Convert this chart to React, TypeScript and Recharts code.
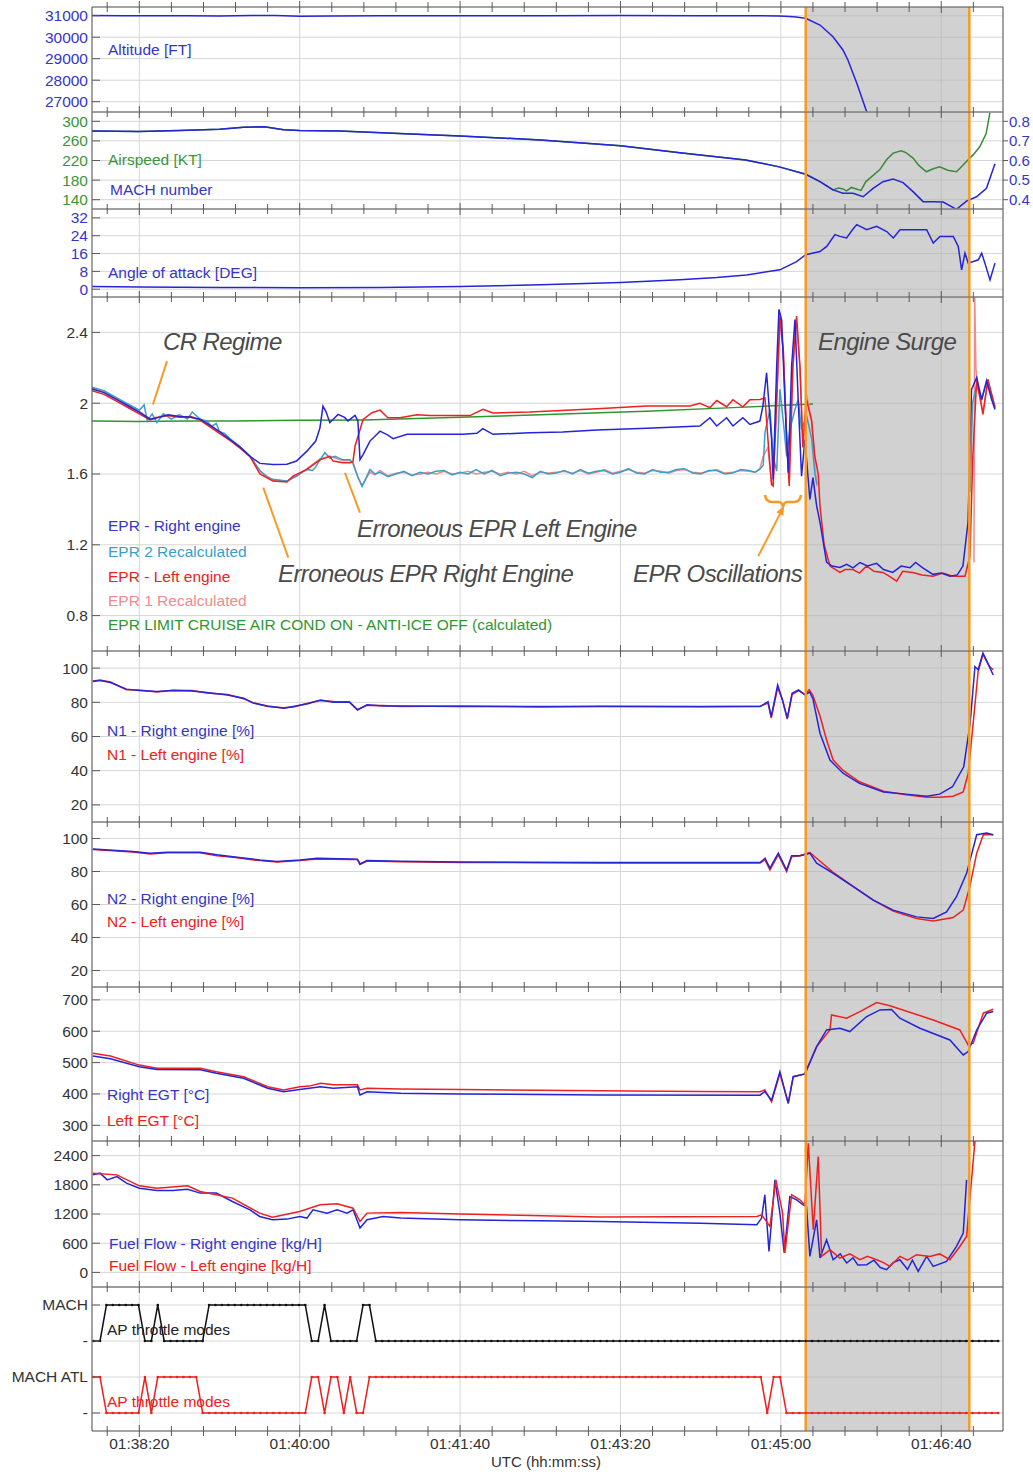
import React from 'react';
import { LineChart, Line, XAxis, YAxis, CartesianGrid, ReferenceLine, ReferenceArea } from 'recharts';

type Pt = [number, number | null];

// x values are seconds after 01:30:00 UTC
const timeDomain: [number, number] = [470.5, 1038.5];
const minorTicks = [480, 500, 520, 540, 560, 580, 600, 620, 640, 660, 680, 700, 720, 740, 760, 780, 800, 820, 840, 860, 880, 900, 920, 940, 960, 980, 1000, 1020];
const majorTicks = [500, 600, 700, 800, 900, 1000];
const surgeWindow = [915.5, 1017.5];

const altitude: Pt[] = [[470.5, 31010], [490, 31000], [510, 30995], [530, 31002], [550, 30990], [570, 31005], [585, 31012], [600, 30975], [620, 30990], [650, 31000], [700, 30995], [750, 31000], [800, 31005], [850, 31000], [880, 30998], [899, 30990], [908, 30950], [915.5, 30879], [924.4, 30567], [932.5, 30023], [938.7, 29405], [941.8, 28940], [947.3, 27870], [953.5, 26535]];

const airspeed: Pt[] = [[470.5, 280], [500, 279], [525, 281], [550, 284], [565, 288], [578, 289], [590, 283], [600, 281], [625, 280], [662, 275], [700, 270], [750, 262], [800, 250], [837, 236], [878, 221], [899, 207], [915.5, 192], [924.4, 177], [932.5, 160], [936, 164], [938.7, 162], [941, 158], [944, 165], [947, 162], [950, 159], [953, 177], [957, 188], [961.6, 201], [966, 222], [970, 235], [975, 240], [978, 236], [982.4, 225], [986, 210], [990.7, 197], [995, 203], [999, 207], [1004, 200], [1009.5, 197], [1012, 205], [1015.7, 218], [1020, 232], [1024, 248], [1028, 275], [1030.3, 317]];

const mach: Pt[] = [[470.5, 0.75], [500, 0.748], [525, 0.7525], [550, 0.76], [565, 0.77], [578, 0.7725], [590, 0.7575], [600, 0.7525], [625, 0.75], [662, 0.7375], [700, 0.725], [750, 0.705], [800, 0.675], [837, 0.64], [878, 0.6025], [899, 0.5675], [915.5, 0.53], [924.4, 0.4925], [932.5, 0.45], [938.7, 0.433], [945, 0.433], [951.3, 0.415], [957.5, 0.458], [963.7, 0.492], [970, 0.505], [976.2, 0.487], [982.4, 0.441], [988.7, 0.39], [995, 0.39], [1001.2, 0.388], [1009.5, 0.351], [1015.7, 0.393], [1022, 0.415], [1028.2, 0.458], [1033.5, 0.583]];

const angleOfAttack: Pt[] = [[470.5, 1.2], [500, 1.0], [550, 0.8], [600, 0.7], [650, 0.8], [700, 1.2], [750, 2.0], [800, 3.0], [837, 4.2], [860, 5.2], [878.7, 6.4], [899.4, 8.7], [909.8, 12.4], [915.5, 15.5], [924.4, 16.9], [928.6, 19.2], [933.7, 24.5], [936.8, 23.7], [941, 23.0], [945, 27], [947.3, 29], [953.5, 26.7], [959.7, 28.2], [966, 25.9], [970.1, 23.0], [974.3, 26.7], [980.5, 26.7], [986.7, 26.7], [990.9, 26.7], [995, 20.7], [999.2, 23.7], [1007.5, 23.7], [1010.6, 19.2], [1012.7, 8.7], [1014.8, 16.2], [1016.8, 11.7], [1020, 12.4], [1023.1, 13.2], [1025.2, 16.2], [1027.2, 11.7], [1030.4, 4.2], [1033.5, 11.7]];

const eprRight: Pt[] = [[470.5, 2.08], [478, 2.06], [486, 2.02], [494, 1.98], [500, 1.95], [506.7, 1.91], [512, 1.92], [518, 1.935], [525, 1.925], [532, 1.92], [537.9, 1.91], [545, 1.87], [550, 1.84], [556.5, 1.795], [563, 1.75], [569, 1.7], [575.2, 1.66], [583.3, 1.654], [592, 1.655], [598, 1.673], [604.5, 1.729], [610, 1.786], [612.6, 1.86], [614.5, 1.984], [616.5, 1.95], [618.8, 1.89], [623.9, 1.937], [628, 1.92], [630.1, 1.9], [634.5, 1.931], [636.3, 1.9], [637.6, 1.682], [639.5, 1.71], [643.8, 1.786], [650.1, 1.842], [655, 1.82], [658.2, 1.8], [666.9, 1.824], [681.2, 1.824], [701.8, 1.825], [710.5, 1.83], [714.2, 1.856], [720.5, 1.824], [743.5, 1.833], [764.1, 1.837], [785.3, 1.848], [816.5, 1.858], [849.5, 1.871], [855.8, 1.918], [860, 1.871], [866.2, 1.918], [870.1, 1.871], [876.3, 1.918], [880.7, 1.88], [886.9, 1.899], [888.8, 1.984], [891.1, 2.172], [894.2, 1.795], [895.2, 1.569], [897.4, 2.21], [898.8, 2.53], [900.5, 2.47], [902.5, 2.021], [904.6, 1.607], [906.7, 2.21], [908.8, 2.473], [910.8, 2.021], [912.9, 1.588], [915, 1.795], [918.1, 1.456], [920, 1.58], [922.3, 1.42], [924.4, 1.327], [928.5, 1.101], [932, 1.08], [936.8, 1.072], [941, 1.09], [945, 1.07], [949.3, 1.1], [954, 1.08], [959.7, 1.095], [964, 1.06], [969.8, 1.044], [975, 1.08], [980.5, 1.07], [984, 1.1], [988.5, 1.07], [994.8, 1.033], [1000, 1.04], [1005.4, 1.023], [1010, 1.03], [1013.5, 1.08], [1016.7, 1.327], [1018.9, 2.078], [1022.1, 2.146], [1025.2, 2.021], [1028.3, 2.125], [1031.4, 2.021], [1033.5, 1.965]];

const eprLeft: Pt[] = [[470.5, 2.07], [478, 2.05], [486, 2.01], [494, 1.97], [500, 1.94], [506.7, 1.905], [512, 1.92], [518, 1.93], [525, 1.92], [532, 1.925], [537.9, 1.905], [545, 1.86], [550, 1.83], [556.5, 1.79], [563, 1.745], [569, 1.7], [575.2, 1.6], [583.3, 1.56], [592, 1.555], [595.8, 1.588], [604.5, 1.626], [612.6, 1.68], [618.8, 1.7], [620.8, 1.673], [627, 1.664], [631.3, 1.664], [633.2, 1.67], [634.5, 1.758], [637.6, 1.85], [639.5, 1.908], [645.1, 1.946], [650.1, 1.961], [655, 1.918], [662.5, 1.918], [673.1, 1.935], [681.2, 1.93], [706.2, 1.93], [714.2, 1.965], [720.5, 1.945], [743.5, 1.95], [785.3, 1.969], [816.5, 1.984], [843.3, 1.984], [849.5, 2.0], [855.8, 1.975], [860, 2.015], [866.2, 1.98], [870.1, 2.02], [876.3, 1.98], [880.7, 2.02], [886.9, 2.021], [890.1, 2.03], [891.9, 1.8], [894.2, 1.541], [895.2, 1.532], [897.4, 2.021], [899.4, 2.492], [901.5, 2.3], [903.6, 1.8], [905.2, 1.532], [907.5, 2.21], [909.8, 2.492], [911.9, 2.21], [913.7, 1.75], [916, 2.021], [919.2, 1.9], [921.2, 1.7], [923.3, 1.6], [924.4, 1.419], [927, 1.2], [930.6, 1.08], [936.8, 1.044], [940, 1.06], [944.9, 1.06], [949, 1.04], [953.5, 1.08], [958, 1.05], [963.6, 1.044], [968, 1.02], [972.2, 0.995], [976, 1.05], [982.3, 1.044], [988, 1.03], [994.8, 1.023], [1001, 1.04], [1007.2, 1.023], [1014.8, 1.023], [1017.9, 1.136], [1019.7, 1.7], [1022.1, 2.135], [1026, 1.937], [1029.1, 2.135], [1033.5, 1.975]];

const epr2Recalc: Pt[] = [[470.5, 2.09], [478, 2.07], [486, 2.03], [494, 1.99], [500, 1.96], [503, 1.99], [505, 1.9], [508, 1.94], [511, 1.89], [515, 1.94], [520, 1.91], [525, 1.935], [530, 1.91], [533, 1.95], [537.9, 1.91], [542, 1.9], [545, 1.87], [548, 1.885], [550, 1.84], [553, 1.83], [556.5, 1.8], [562, 1.76], [569, 1.7], [575.2, 1.62], [580, 1.58], [583.3, 1.57], [588, 1.565], [592, 1.56], [598, 1.59], [604.5, 1.626], [608, 1.62], [610, 1.64], [612.6, 1.68], [615.7, 1.72], [618.8, 1.69], [622, 1.7], [627, 1.68], [631.3, 1.68], [633.2, 1.66], [636.3, 1.58], [638.9, 1.53], [643.8, 1.625], [647, 1.6], [650.1, 1.61], [655, 1.585], [660, 1.6], [665, 1.615], [670, 1.59], [675, 1.61], [680, 1.6], [685, 1.615], [690, 1.62], [695, 1.595], [700, 1.61], [705, 1.6], [710, 1.625], [715, 1.6], [720, 1.62], [725, 1.59], [730, 1.605], [735, 1.61], [740, 1.6], [745, 1.58], [750, 1.615], [755, 1.6], [760, 1.605], [765, 1.62], [770, 1.6], [775, 1.625], [780, 1.605], [785, 1.615], [790, 1.62], [795, 1.6], [800, 1.61], [805, 1.63], [810, 1.605], [815, 1.6], [820, 1.625], [825, 1.61], [830, 1.61], [835, 1.625], [840, 1.63], [845, 1.605], [850, 1.6], [855, 1.62], [860, 1.62], [865, 1.6], [870, 1.605], [875, 1.625], [880, 1.62], [884, 1.61], [886.9, 1.627], [889, 1.65], [890.1, 1.835], [893.2, 1.965], [895.2, 1.7], [897.4, 1.616], [899.4, 2.078], [901.5, 1.9], [903.6, 1.7], [905.6, 1.85], [908.8, 1.965], [910.8, 2.021], [912.9, 1.85], [916, 1.93], [919.2, 1.8], [921.2, 1.6], [922.5, 1.541], [923, null], [1017.9, null], [1018.2, 1.5], [1019.5, 2.0], [1022.1, 2.1], [1025.2, 2.02], [1028.3, 2.13], [1031.4, 2.05], [1033.5, 1.98]];

const epr1Recalc: Pt[] = [[470.5, 2.085], [478, 2.065], [486, 2.025], [494, 1.985], [500, 1.955], [506.7, 1.91], [512, 1.925], [518, 1.93], [525, 1.925], [532, 1.92], [537.9, 1.905], [545, 1.865], [550, 1.835], [556.5, 1.795], [563, 1.75], [569, 1.7], [575.2, 1.615], [583.3, 1.565], [592, 1.56], [598, 1.585], [604.5, 1.63], [612.6, 1.685], [618.8, 1.7], [622, 1.69], [627, 1.675], [631.3, 1.675], [633.2, 1.665], [636.3, 1.585], [638.9, 1.535], [643.8, 1.61], [647, 1.595], [650.1, 1.62], [655, 1.59], [660, 1.605], [665, 1.61], [670, 1.595], [675, 1.6], [680, 1.61], [685, 1.6], [690, 1.615], [695, 1.6], [700, 1.605], [705, 1.615], [710, 1.6], [715, 1.61], [720, 1.615], [725, 1.6], [730, 1.61], [735, 1.6], [740, 1.615], [745, 1.59], [750, 1.61], [755, 1.605], [760, 1.61], [765, 1.615], [770, 1.605], [775, 1.62], [780, 1.6], [785, 1.61], [790, 1.625], [795, 1.605], [800, 1.615], [805, 1.625], [810, 1.61], [815, 1.605], [820, 1.62], [825, 1.615], [830, 1.605], [835, 1.62], [840, 1.625], [845, 1.61], [850, 1.605], [855, 1.615], [860, 1.625], [865, 1.605], [870, 1.61], [875, 1.62], [880, 1.615], [884, 1.61], [886.9, 1.63], [889, 1.7], [891.9, 1.75], [894.2, 1.541], [895.2, 1.55], [897.4, 2.0], [899.4, 2.45], [901.5, 2.3], [903.6, 1.8], [905.2, 1.55], [907.5, 2.2], [909.8, 2.45], [911.9, 2.2], [913.7, 1.78], [916, 2.05], [919.2, 1.9], [921.2, 1.65], [922.5, 1.53], [923, null], [1020, null], [1020.4, 1.1], [1020.8, 2.65], [1021.6, 2.2], [1022.5, 2.1], [1026, 1.95], [1029, 2.12], [1033.5, 1.97]];

const eprLimit: Pt[] = [[470.5, 1.899], [500, 1.897], [530, 1.9], [560, 1.9], [600, 1.903], [640, 1.905], [700, 1.92], [750, 1.935], [787, 1.946], [816, 1.955], [870, 1.975], [920, 1.995]];

const n1Right: Pt[] = [[471, 92.1], [475.5, 92.7], [482, 91.6], [492, 87.7], [500, 86.9], [511, 86.3], [521, 86.9], [533, 86.6], [542, 85.7], [555, 84.3], [565, 82.4], [571, 79.5], [580, 77.9], [590, 76.5], [596, 77.5], [605, 79.1], [613, 81.4], [621, 80.1], [631, 80.1], [636, 75.5], [642, 78.5], [652, 77.9], [663, 77.9], [700, 77.6], [750, 77.5], [787, 77.5], [850, 77.5], [887, 77.5], [892, 80.4], [894, 71.6], [898, 90.2], [901, 81.4], [904, 70.7], [907, 85.3], [911, 87.3], [915, 84.3], [918, 86], [920, 82], [924.4, 61.9], [930.6, 46.2], [939, 38.4], [949, 32.6], [964, 27.6], [978, 26.3], [991, 25.1], [999, 26.3], [1007, 30.6], [1014, 42.3], [1018, 67.7], [1021, 100.9], [1023, 99], [1026, 108.8], [1029, 102.9], [1032.4, 96]];

const n1Left: Pt[] = [[471, 92.4], [475.5, 93], [482, 91.9], [492, 87.4], [500, 87.2], [511, 86.0], [521, 87.1], [533, 86.9], [542, 85.4], [555, 84.6], [565, 82.1], [571, 79.8], [580, 77.6], [590, 76.8], [596, 77.3], [605, 79.4], [613, 81.1], [621, 80.4], [631, 80.3], [636, 75.8], [642, 78.2], [652, 78.2], [663, 77.6], [700, 77.9], [750, 77.3], [787, 77.7], [850, 77.4], [887, 77.7], [892, 79.5], [894, 70.8], [898, 88.5], [901, 81.4], [904, 70.2], [907, 84.5], [911, 86.8], [915, 84.5], [917.7, 87.3], [920, 84], [924.4, 72], [928.5, 58], [932.6, 46.2], [939, 40], [949, 33.5], [964, 28], [978, 26], [991, 24.5], [999, 24.5], [1007.4, 25.1], [1013.7, 27.6], [1016.8, 38.4], [1019.9, 67.7], [1023, 98], [1026, 108], [1030, 101], [1032.4, 99]];

const n2Right: Pt[] = [[471, 93.7], [496, 92.1], [506.7, 91.1], [517.3, 91.7], [537.9, 91.7], [548.4, 90.1], [558.4, 89], [575.2, 87], [585.8, 86], [600.2, 87], [610.8, 88], [631.4, 87.6], [636, 87.5], [637.6, 84.6], [642, 86.6], [662.6, 86.2], [700, 85.8], [787, 85.4], [887, 85.4], [890.1, 88], [893.2, 82], [898.4, 91.1], [903.6, 80.9], [906.7, 89.5], [911.9, 89.5], [918.1, 91.1], [922.3, 85], [932.6, 78.9], [945.1, 70.8], [957.6, 62.6], [970, 56.6], [984.6, 52.5], [995, 51.5], [1003.3, 55.5], [1009.5, 64.7], [1015.8, 78.9], [1022.1, 102.3], [1028.3, 103.3], [1032.4, 102.3]];

const n2Left: Pt[] = [[471, 93.4], [496, 91.8], [506.7, 90.6], [517.3, 91.4], [537.9, 91.4], [548.4, 89.6], [558.4, 88.6], [575.2, 86.6], [585.8, 85.7], [600.2, 86.7], [610.8, 87.6], [631.4, 87.3], [636, 87.2], [637.6, 84.3], [642, 86.3], [662.6, 85.9], [700, 85.5], [787, 85.2], [887, 85.2], [890.1, 87], [893.2, 81], [898.4, 90], [903.6, 80], [906.7, 89], [911.9, 89.5], [918.1, 91.5], [922.3, 88], [932.6, 79.5], [945.1, 71], [957.6, 62.6], [970, 56], [984.6, 51.5], [995, 50], [1007.4, 52.1], [1013.7, 56.6], [1017.8, 70.8], [1022.1, 91.1], [1026.2, 102.3], [1032.4, 102.3]];

const egtRight: Pt[] = [[471, 521], [482, 512], [500, 487], [511, 478], [538, 477], [548, 466], [565, 450], [580, 418], [590, 407], [600, 414], [613, 423], [621, 418], [636, 423], [637.6, 397], [642, 407], [663, 402], [700, 400], [787, 396.8], [887, 396], [890, 408], [894.2, 380], [899.4, 471], [904.6, 370], [907.7, 455], [915, 464], [922.3, 551], [928.5, 604], [936.8, 609.6], [943, 599], [953.5, 646.8], [961.8, 668], [969, 669], [974.2, 641.5], [986.7, 609.6], [1005.4, 572], [1013.7, 524.5], [1016.8, 535], [1022.1, 604], [1028.3, 657.5], [1032.4, 663]];

const egtLeft: Pt[] = [[471, 530], [482, 521], [500, 492], [511, 482], [538, 482], [548, 471], [565, 455], [580, 423], [590, 413], [600, 423], [606, 425], [613, 434], [621, 429], [636, 429], [637.6, 413], [642, 418], [663, 416], [700, 414], [787, 410.6], [850, 408], [887, 407], [890, 413], [894.2, 375], [899.4, 465], [904.6, 370], [907.7, 455], [915, 464], [922.3, 551], [930.6, 604], [931.6, 652], [941, 641.5], [949.3, 662.7], [959.7, 691.5], [968, 681], [995, 636], [1011.6, 604], [1016.8, 556], [1019.9, 562], [1026.2, 657.5], [1032.4, 670]];

const fuelRight: Pt[] = [[471, 2004], [475.5, 2039], [480, 1901], [486, 1969], [492, 1834], [500, 1731], [511, 1682], [521, 1682], [530, 1710], [538, 1629], [548, 1629], [558, 1457], [569, 1286], [575, 1149], [583, 1081], [592, 1095], [600, 1149], [604.5, 1116], [608.3, 1286], [617, 1218], [623.3, 1286], [629.5, 1218], [633.3, 1286], [637.6, 911], [642, 1081], [652, 1149], [663, 1116], [700, 1080], [750, 1060], [787, 1046], [850, 1010], [885, 978], [888, 1116], [890, 1594], [892.6, 431], [896.3, 1902], [899.4, 1218], [902.1, 398], [905.6, 1559], [909.8, 1491], [913.9, 1389], [916, 1350], [918.1, 328], [922.3, 1081], [924.4, 295], [928.5, 671], [932.6, 260], [937, 380], [941, 193], [945, 300], [948, 150], [953.5, 158], [958, 250], [962, 100], [965.9, 55], [970, 200], [974.2, 260], [979, 60], [982, 250], [985.6, 20], [990.9, 328], [995, 123], [1003.3, 226], [1009.5, 533], [1013.7, 808], [1015.8, 1902]];

const fuelLeft: Pt[] = [[471, 2039], [486, 2004], [500, 1779], [511, 1731], [530, 1779], [538, 1662], [558, 1526], [575, 1218], [583, 1136], [600, 1252], [612.7, 1389], [623.3, 1409], [633.3, 1320], [637.6, 1046], [642, 1218], [663, 1231], [700, 1200], [787, 1136], [885, 1149], [888, 1184], [893.2, 944], [896.9, 1902], [901.1, 1218], [902.5, 398], [906.7, 1594], [911.9, 1491], [915, 1386], [917.1, 2654], [920.2, 876], [923.3, 2380], [925.4, 328], [930.6, 466], [936.8, 295], [943, 380], [949.3, 260], [954, 330], [959.7, 260], [964, 200], [968, 123], [974.2, 328], [979, 250], [984.6, 363], [992.9, 328], [999, 380], [1005.4, 260], [1011.6, 533], [1015.8, 738], [1018.9, 1902], [1021, 2700]];

// AP throttle mode, one digit per 4 s sample (1 = mode engaged)
const apStart = 471.5;
const apStep = 4;
const apRight = '0011111100 1000000011 1111111111 1111001000 0011000000 0000000000 0000000000 0000000000 0000000000 0000000000 0000000000 0000000000 0000000000 0000000000 00';
const apLeft = '1100000010 1111111000 0000000000 0000110110 1001111111 1111111111 1111111111 1111111111 1111111111 1111111111 1111101100 0000000000 0000000000 0000000000 00';

const apLevelNames: Record<number, string> = { 3: 'MACH', 2: '-', 1: 'MACH ATL', 0: '-' };

const leaders: [number, number, number, number][] = [
  [517.3, 2.238, 508.5, 1.993],
  [577.3, 1.523, 592.9, 1.127],
  [628.2, 1.607, 637.6, 1.381],
  [885.9, 1.136, 901.5, 1.41],
];

const FONT = '"Liberation Sans", Arial, Helvetica, sans-serif';
const BLUE = '#2424d8';
const RED = '#ee2020';
const TEAL = '#3a9ec8';
const PINK = '#f28a8e';
const GREEN = '#2f962f';
const AS_GREEN = '#3b8a3b';
const INK = '#333333';
const FRAME = '#5a5a5a';
const GRID = '#d6d6d6';
const ORANGE = '#f59b25';
const NOTE = '#4a4a4a';
const BLUE_TXT = '#3535cc';
const GREEN_TXT = '#3a963a';

const legendLabels = [
  { text: 'Altitude [FT]', x: 108, y: 55, color: BLUE_TXT },
  { text: 'Airspeed [KT]', x: 108, y: 165, color: GREEN_TXT },
  { text: 'MACH number', x: 110, y: 195, color: BLUE_TXT },
  { text: 'Angle of attack [DEG]', x: 108, y: 278, color: BLUE_TXT },
  { text: 'EPR - Right engine', x: 108, y: 531, color: BLUE_TXT },
  { text: 'EPR 2 Recalculated', x: 108, y: 557, color: TEAL },
  { text: 'EPR - Left engine', x: 108, y: 582, color: RED },
  { text: 'EPR 1 Recalculated', x: 108, y: 606, color: PINK },
  { text: 'EPR LIMIT CRUISE AIR COND ON - ANTI-ICE OFF (calculated)', x: 108, y: 630, color: GREEN },
  { text: 'N1 - Right engine [%]', x: 107, y: 736, color: BLUE_TXT },
  { text: 'N1 - Left engine [%]', x: 107, y: 760, color: RED },
  { text: 'N2 - Right engine [%]', x: 107, y: 904, color: BLUE_TXT },
  { text: 'N2 - Left engine [%]', x: 107, y: 927, color: RED },
  { text: 'Right EGT [°C]', x: 107, y: 1100, color: BLUE_TXT },
  { text: 'Left EGT [°C]', x: 107, y: 1126, color: RED },
  { text: 'Fuel Flow - Right engine [kg/H]', x: 109, y: 1249, color: BLUE_TXT },
  { text: 'Fuel Flow - Left engine [kg/H]', x: 109, y: 1271, color: RED },
  { text: 'AP throttle modes', x: 107, y: 1335, color: '#222222' },
  { text: 'AP throttle modes', x: 107, y: 1407, color: RED },
];

const notes = [
  { text: 'CR Regime', x: 163, y: 350 },
  { text: 'Engine Surge', x: 818, y: 350 },
  { text: 'Erroneous EPR Left Engine', x: 357, y: 537 },
  { text: 'Erroneous EPR Right Engine', x: 278, y: 582 },
  { text: 'EPR Oscillations', x: 633, y: 582 },
];

const toRows = (pts: Pt[]) => pts.map(([t, v]) => ({ t, v }));

const apRows = (code: string, base: number) =>
  code.replace(/ /g, '').split('').map((d, i) => ({ t: apStart + i * apStep, v: base + Number(d) }));

const fmtTime = (s: number) => {
  const m = Math.floor(s / 60) + 30;
  const sec = s % 60;
  return `01:${String(m).padStart(2, '0')}:${String(sec).padStart(2, '0')}`;
};

// crossing tick marks on a panel border; y is the border line
const borderTick = (p: any) => {
  const big = majorTicks.includes(p.payload.value);
  return <line x1={p.x} x2={p.x} y1={p.y - (big ? 6 : 5)} y2={p.y + (big ? 6 : 5)} stroke={FRAME} strokeWidth={1} />;
};

const bottomTick = (p: any) => {
  const v = p.payload.value;
  const big = majorTicks.includes(v);
  return (
    <g>
      <line x1={p.x} x2={p.x} y1={p.y - (big ? 6 : 5)} y2={p.y + (big ? 6 : 5)} stroke={FRAME} strokeWidth={1} />
      {big && (
        <text x={p.x} y={p.y + 17.5} textAnchor="middle" fill={INK} fontSize={15.5} fontFamily={FONT}>
          {fmtTime(v)}
        </text>
      )}
    </g>
  );
};

const leftTick = (color: string, fmt?: (v: number) => string) => (p: any) => (
  <g>
    <line x1={p.x} x2={p.x + 8} y1={p.y} y2={p.y} stroke={FRAME} strokeWidth={1} />
    <text x={p.x - 4} y={p.y} dy="0.35em" textAnchor="end" fill={color} fontSize={15.5} fontFamily={FONT}>
      {fmt ? fmt(p.payload.value) : String(p.payload.value)}
    </text>
  </g>
);

const rightTick = (color: string) => (p: any) => (
  <g>
    <line x1={p.x} x2={p.x + 5} y1={p.y} y2={p.y} stroke={FRAME} strokeWidth={1} />
    <text x={p.x + 6} y={p.y} dy="0.35em" textAnchor="start" fill={color} fontSize={15} fontFamily={FONT}>
      {String(p.payload.value)}
    </text>
  </g>
);

function trace(key: string, pts: Pt[], color: string, axis = 'l') {
  return (
    <Line key={key} xAxisId="t" yAxisId={axis} data={toRows(pts)} dataKey="v" type="linear" stroke={color} strokeWidth={1.5} dot={false} activeDot={false} isAnimationActive={false} />
  );
}

interface PanelProps {
  top: number;
  h: number;
  yDomain: [number, number];
  yTicks: number[];
  yColor: string;
  yFmt?: (v: number) => string;
  right?: { domain: [number, number]; ticks: number[]; color: string };
  bottom?: boolean;
  children?: React.ReactNode;
}

function Panel({ top, h, yDomain, yTicks, yColor, yFmt, right, bottom, children }: PanelProps) {
  const mb = bottom ? 40 : 10;
  return (
    <div style={{ position: 'absolute', left: 0, top: top - 10 }}>
      <LineChart width={1033} height={h + 10 + mb} margin={{ top: 9, right: 0, bottom: bottom ? mb - 1 : mb, left: 0 }}>
        <XAxis xAxisId="t" type="number" dataKey="t" orientation="top" domain={timeDomain} allowDataOverflow ticks={minorTicks} interval={0} height={1} tickSize={0} tickMargin={0} tickLine={false} axisLine={{ stroke: FRAME }} tick={borderTick} />
        <XAxis xAxisId="g" type="number" dataKey="t" domain={timeDomain} allowDataOverflow ticks={majorTicks} interval={0} hide />
        {bottom && (
          <XAxis xAxisId="b" type="number" dataKey="t" orientation="bottom" domain={timeDomain} allowDataOverflow ticks={minorTicks} interval={0} height={1} tickSize={0} tickMargin={0} tickLine={false} axisLine={{ stroke: FRAME }} tick={bottomTick} />
        )}
        <YAxis yAxisId="l" type="number" domain={yDomain} allowDataOverflow ticks={yTicks} interval={0} width={92} tickSize={0} tickMargin={0} tickLine={false} axisLine={{ stroke: FRAME }} tick={leftTick(yColor, yFmt)} />
        <YAxis yAxisId="r" type="number" orientation="right" domain={right ? right.domain : [0, 1]} allowDataOverflow ticks={right ? right.ticks : []} interval={0} width={30} tickSize={0} tickMargin={0} tickLine={false} axisLine={{ stroke: FRAME }} tick={right ? rightTick(right.color) : false} />
        <CartesianGrid xAxisId="g" yAxisId="l" stroke={GRID} strokeWidth={1} />
        <ReferenceArea xAxisId="t" yAxisId="l" x1={surgeWindow[0]} x2={surgeWindow[1]} fill="#b3b3b3" fillOpacity={0.6} stroke="none" />
        {children}
        <ReferenceLine xAxisId="t" yAxisId="l" x={surgeWindow[0]} stroke={ORANGE} strokeWidth={2.5} />
        <ReferenceLine xAxisId="t" yAxisId="l" x={surgeWindow[1]} stroke={ORANGE} strokeWidth={2.5} />
      </LineChart>
    </div>
  );
}

export default function App() {
  return (
    <div style={{ position: 'relative', width: 1033, height: 1474, background: '#ffffff', fontFamily: FONT }}>
      <style>{'body{margin:0;}'}</style>

      <Panel top={7} h={105} yDomain={[26520, 31405]} yTicks={[27000, 28000, 29000, 30000, 31000]} yColor={BLUE_TXT}>
        {trace('alt', altitude, BLUE)}
      </Panel>

      <Panel top={112} h={97} yDomain={[121, 319]} yTicks={[140, 180, 220, 260, 300]} yColor={GREEN_TXT}
        right={{ domain: [0.3525, 0.8475], ticks: [0.4, 0.5, 0.6, 0.7, 0.8], color: BLUE_TXT }}>
        {trace('ias', airspeed, AS_GREEN)}
        {trace('mach', mach, BLUE, 'r')}
      </Panel>

      <Panel top={209} h={88} yDomain={[-3.5, 36]} yTicks={[0, 8, 16, 24, 32]} yColor={BLUE_TXT}>
        {trace('aoa', angleOfAttack, BLUE)}
      </Panel>

      <Panel top={297} h={354} yDomain={[0.6, 2.6]} yTicks={[0.8, 1.2, 1.6, 2, 2.4]} yColor={INK}>
        {trace('lim', eprLimit, GREEN)}
        {trace('e1r', epr1Recalc, PINK)}
        {trace('e2r', epr2Recalc, TEAL)}
        {trace('el', eprLeft, RED)}
        {trace('er', eprRight, BLUE)}
        {leaders.map(([x1, y1, x2, y2], i) => (
          <ReferenceLine key={`ld${i}`} xAxisId="t" yAxisId="l" segment={[{ x: x1, y: y1 }, { x: x2, y: y2 }]} stroke={ORANGE} strokeWidth={2} />
        ))}
      </Panel>

      <Panel top={651} h={171} yDomain={[10, 110]} yTicks={[20, 40, 60, 80, 100]} yColor={INK}>
        {trace('n1l', n1Left, RED)}
        {trace('n1r', n1Right, BLUE)}
      </Panel>

      <Panel top={822} h={165} yDomain={[10, 110]} yTicks={[20, 40, 60, 80, 100]} yColor={INK}>
        {trace('n2l', n2Left, RED)}
        {trace('n2r', n2Right, BLUE)}
      </Panel>

      <Panel top={987} h={154} yDomain={[250, 741]} yTicks={[300, 400, 500, 600, 700]} yColor={INK}>
        {trace('egtl', egtLeft, RED)}
        {trace('egtr', egtRight, BLUE)}
      </Panel>

      <Panel top={1141} h={146} yDomain={[-300, 2700]} yTicks={[0, 600, 1200, 1800, 2400]} yColor={INK}>
        {trace('ffr', fuelRight, BLUE)}
        {trace('ffl', fuelLeft, RED)}
      </Panel>

      <Panel top={1287} h={144} yDomain={[-0.5, 3.5]} yTicks={[0, 1, 2, 3]} yColor={INK} yFmt={(v) => apLevelNames[v]} bottom>
        <Line xAxisId="t" yAxisId="l" data={apRows(apRight, 2)} dataKey="v" type="linear" stroke="#111111" strokeWidth={1.5} dot={{ r: 1.3, fill: '#111111', stroke: 'none' }} activeDot={false} isAnimationActive={false} />
        <Line xAxisId="t" yAxisId="l" data={apRows(apLeft, 0)} dataKey="v" type="linear" stroke={RED} strokeWidth={1.5} dot={{ r: 1.3, fill: RED, stroke: 'none' }} activeDot={false} isAnimationActive={false} />
      </Panel>

      <svg width={1033} height={1474} style={{ position: 'absolute', left: 0, top: 0, pointerEvents: 'none' }}>
        {legendLabels.map((l, i) => (
          <text key={`lg${i}`} x={l.x} y={l.y} fill={l.color} fontSize={15.5} fontFamily={FONT}>{l.text}</text>
        ))}
        {notes.map((n, i) => (
          <text key={`nt${i}`} x={n.x} y={n.y} fill={NOTE} fontSize={24} fontStyle="italic" letterSpacing={-0.6} fontFamily={FONT}>{n.text}</text>
        ))}
        <path d="M784 506 L783.4 515.8 L776.3 512.2 Z" fill={ORANGE} />
        <path d="M765 495 Q766 502 772 502 L779 502 Q782 502 783 507 Q784 502 787 502 L794 502 Q800 502 801 495" fill="none" stroke={ORANGE} strokeWidth={2.5} />
        <text x={546} y={1467} textAnchor="middle" fill={INK} fontSize={15} fontFamily={FONT}>UTC (hh:mm:ss)</text>
      </svg>
    </div>
  );
}
